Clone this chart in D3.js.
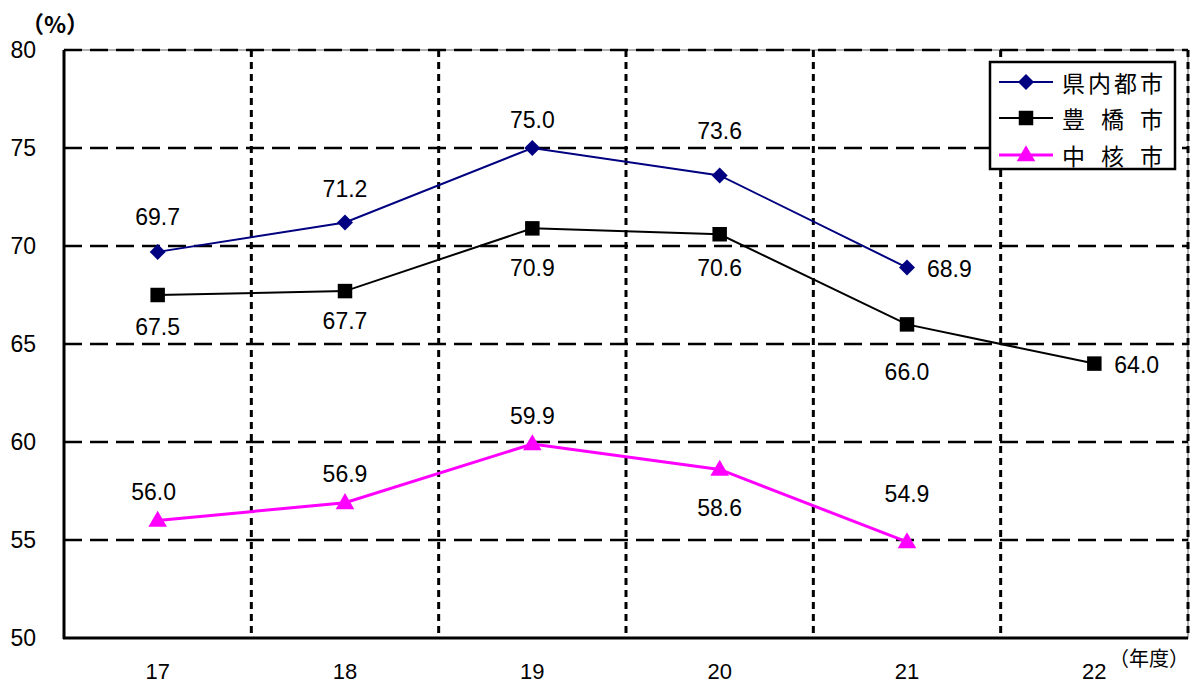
<!DOCTYPE html>
<html>
<head>
<meta charset="utf-8">
<script src="https://cdn.jsdelivr.net/npm/d3@7"></script>
<style>
  html, body { margin: 0; padding: 0; background: #fff; }
  svg { display: block; }
</style>
</head>
<body>
<svg id="chart" width="1192" height="684"></svg>
<script>
// Fiscal years (Heisei) and rates (%)
const years = ["17", "18", "19", "20", "21", "22"];
const kennai = [69.7, 71.2, 75.0, 73.6, 68.9, null];
const toyohashi = [67.5, 67.7, 70.9, 70.6, 66.0, 64.0];
const chukaku = [56.0, 56.9, 59.9, 58.6, 54.9, null];
const yTicks = [50, 55, 60, 65, 70, 75, 80];
const seriesNames = ["県内都市", "豊 橋 市", "中 核 市"];

// Label placement for each point: [dx, dy] from the marker, plus anchor
const kennaiLabelPos = [[0, -35, "middle"], [0, -33, "middle"], [0, -28, "middle"], [0, -44, "middle"], [20, 1, "start"]];
const toyohashiLabelPos = [[0, 32, "middle"], [0, 30, "middle"], [0, 40, "middle"], [0, 34, "middle"], [0, 48, "middle"], [20, 1, "start"]];
const chukakuLabelPos = [[-4, -28, "middle"], [0, -29, "middle"], [0, -28, "middle"], [0, 39, "middle"], [0, -48, "middle"]];

const svg = d3.select("#chart");
const plot = { left: 64, right: 1188, top: 50, bottom: 638 };

const x = d3.scaleBand().domain(years).range([plot.left, plot.right]).padding(0);
const xc = d => x(d) + x.bandwidth() / 2;
const y = d3.scaleLinear().domain([50, 80]).range([plot.bottom, plot.top]);

const numFont = "'Liberation Sans', Arial, sans-serif";
const cjkFont = "'Noto Sans CJK JP', sans-serif";

// Plot-area frame (thin)
svg.append("rect")
  .attr("x", plot.left).attr("y", plot.top)
  .attr("width", plot.right - plot.left).attr("height", plot.bottom - plot.top)
  .attr("fill", "none").attr("stroke", "#666").attr("stroke-width", 1);

// Horizontal dashed gridlines
svg.append("g").selectAll("line")
  .data(yTicks.filter(v => v > 50))
  .join("line")
  .attr("x1", plot.left).attr("x2", plot.right)
  .attr("y1", d => y(d)).attr("y2", d => y(d))
  .attr("stroke", "#000").attr("stroke-width", 2.5)
  .attr("stroke-dasharray", "18,8");

// Vertical dotted gridlines at category boundaries (and right edge)
const boundaries = years.slice(1).map(d => x(d)).concat([plot.right]);
svg.append("g").selectAll("line")
  .data(boundaries)
  .join("line")
  .attr("x1", d => d).attr("x2", d => d)
  .attr("y1", plot.top).attr("y2", plot.bottom)
  .attr("stroke", "#000").attr("stroke-width", 3)
  .attr("stroke-dasharray", "7,5");

// Axes lines
svg.append("line")
  .attr("x1", plot.left).attr("x2", plot.left)
  .attr("y1", plot.top).attr("y2", plot.bottom + 1)
  .attr("stroke", "#000").attr("stroke-width", 3);
svg.append("line")
  .attr("x1", plot.left - 1).attr("x2", plot.right)
  .attr("y1", plot.bottom).attr("y2", plot.bottom)
  .attr("stroke", "#000").attr("stroke-width", 3);

// Y tick labels
svg.append("g").selectAll("text")
  .data(yTicks)
  .join("text")
  .attr("x", 36).attr("y", d => y(d))
  .attr("text-anchor", "end").attr("dominant-baseline", "central")
  .attr("font-family", numFont).attr("font-size", 23).attr("fill", "#000")
  .text(d => d);

// X tick labels
svg.append("g").selectAll("text")
  .data(years)
  .join("text")
  .attr("x", d => xc(d)).attr("y", 671)
  .attr("text-anchor", "middle").attr("dominant-baseline", "central")
  .attr("font-family", numFont).attr("font-size", 22).attr("fill", "#000")
  .text(d => d);

// Unit labels
svg.append("text")
  .attr("x", 55).attr("y", 23)
  .attr("text-anchor", "middle").attr("dominant-baseline", "central")
  .attr("font-family", cjkFont).attr("font-size", 23).attr("font-weight", "bold")
  .text("（%）");
svg.append("text")
  .attr("x", 1149).attr("y", 657)
  .attr("text-anchor", "middle").attr("dominant-baseline", "central")
  .attr("font-family", cjkFont).attr("font-size", 20)
  .text("（年度）");

// Marker shapes
const diamondPath = "M0,-8L8,0L0,8L-8,0Z";
const markerPath = {
  diamond: diamondPath,
  square: d3.symbol().type(d3.symbolSquare).size(210)(),
  triangle: d3.symbol().type(d3.symbolTriangle).size(150)()
};

const series = [
  { name: seriesNames[0], values: kennai, color: "#000080", width: 2, marker: "diamond", labels: kennaiLabelPos },
  { name: seriesNames[1], values: toyohashi, color: "#000000", width: 2, marker: "square", labels: toyohashiLabelPos },
  { name: seriesNames[2], values: chukaku, color: "#FF00FF", width: 3, marker: "triangle", labels: chukakuLabelPos }
];

const line = d3.line()
  .defined(d => d.v != null)
  .x(d => xc(d.year))
  .y(d => y(d.v));

series.forEach(s => {
  const pts = years.map((year, i) => ({ year, v: s.values[i], i }));
  const valid = pts.filter(p => p.v != null);
  const g = svg.append("g");
  g.append("path")
    .datum(pts)
    .attr("d", line)
    .attr("fill", "none")
    .attr("stroke", s.color)
    .attr("stroke-width", s.width);
  g.selectAll("path.m")
    .data(valid)
    .join("path")
    .attr("class", "m")
    .attr("d", markerPath[s.marker])
    .attr("transform", p => `translate(${xc(p.year)},${y(p.v) + (s.marker === "triangle" ? 1 : 0)})`)
    .attr("fill", s.color);
  g.selectAll("text")
    .data(valid)
    .join("text")
    .attr("x", p => xc(p.year) + s.labels[p.i][0])
    .attr("y", p => y(p.v) + s.labels[p.i][1])
    .attr("text-anchor", p => s.labels[p.i][2])
    .attr("dominant-baseline", "central")
    .attr("font-family", numFont).attr("font-size", 23).attr("fill", "#000")
    .text(p => p.v.toFixed(1));
});

// Legend
const legend = svg.append("g");
legend.append("rect")
  .attr("x", 990).attr("y", 62).attr("width", 185).attr("height", 107)
  .attr("fill", "#fff").attr("stroke", "#000").attr("stroke-width", 2.5);
const legendRows = [82, 118, 155];
series.forEach((s, i) => {
  const ly = legendRows[i];
  legend.append("line")
    .attr("x1", 999).attr("x2", 1053).attr("y1", ly).attr("y2", ly)
    .attr("stroke", s.color).attr("stroke-width", s.width);
  legend.append("path")
    .attr("d", markerPath[s.marker])
    .attr("transform", `translate(1026,${ly + (s.marker === "triangle" ? 1 : 0)})`)
    .attr("fill", s.color);
  legend.append("text")
    .attr("x", 1062).attr("y", ly)
    .attr("dominant-baseline", "central")
    .attr("font-family", cjkFont).attr("font-size", 23).attr("fill", "#000")
    .attr("textLength", 101).attr("lengthAdjust", "spacing")
    .text(s.name);
});
</script>
</body>
</html>
